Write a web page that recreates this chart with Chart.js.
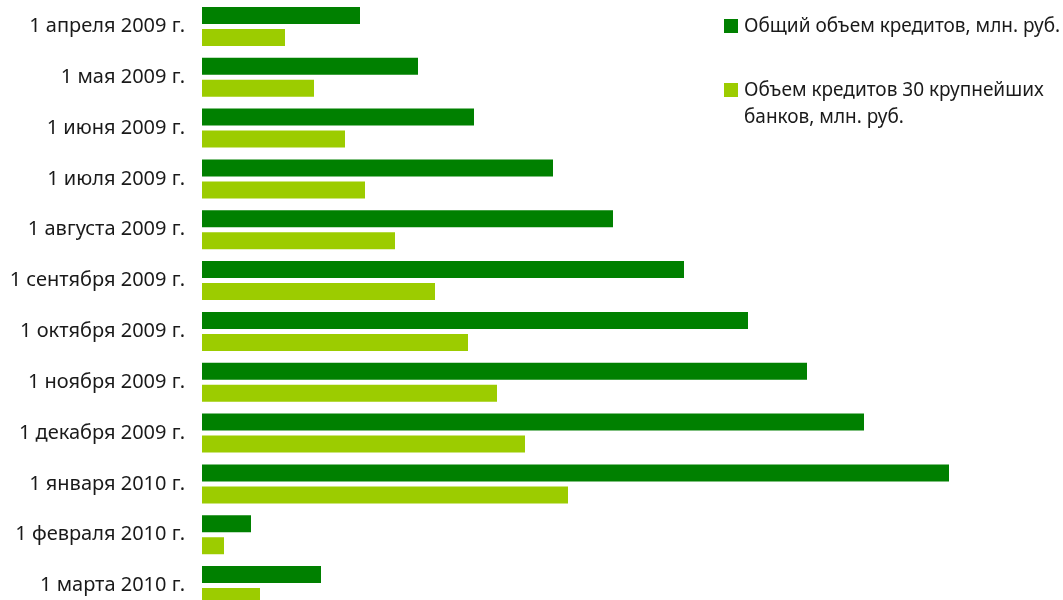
<!DOCTYPE html>
<html>
<head>
<meta charset="utf-8">
<script src="https://cdn.jsdelivr.net/npm/chart.js@4"></script>
<style>
html,body{margin:0;padding:0;background:#fff;overflow:hidden;width:1063px;height:600px;}
#wrap{position:relative;width:1063px;height:612px;}
#legend{position:absolute;left:724px;top:0;font-family:"Noto Sans",sans-serif;font-size:19px;color:#1a1a1a;}
.li{position:absolute;left:0;white-space:nowrap;}
.sw{position:absolute;left:0;width:14px;height:14px;}
.tx{position:absolute;left:20px;line-height:27px;}
</style>
</head>
<body>
<div id="wrap">
<canvas id="c" width="1063" height="612"></canvas>
<div id="legend"></div>
</div>
<script>
const categories = ["1 апреля 2009 г.","1 мая 2009 г.","1 июня 2009 г.","1 июля 2009 г.","1 августа 2009 г.","1 сентября 2009 г.","1 октября 2009 г.","1 ноября 2009 г.","1 декабря 2009 г.","1 января 2010 г.","1 февраля 2010 г.","1 марта 2010 г."];
const totalCredits = [158,216,272,351,411,482,546,605,662,747,49,119];
const top30Credits = [83,112,143,163,193,233,266,295,323,366,22,58];
const seriesNames = ["Общий объем кредитов, млн. руб.","Объем кредитов 30 крупнейших банков, млн. руб."];
const colors = ["#008000","#9ccc00"];
const xMax = 760;

const ctx = document.getElementById('c');
new Chart(ctx, {
  type: 'bar',
  data: {
    labels: categories,
    datasets: [
      {label: seriesNames[0], data: totalCredits, backgroundColor: colors[0], categoryPercentage: 0.865, barPercentage: 0.773},
      {label: seriesNames[1], data: top30Credits, backgroundColor: colors[1], categoryPercentage: 0.865, barPercentage: 0.773}
    ]
  },
  options: {
    indexAxis: 'y',
    responsive: false,
    animation: false,
    devicePixelRatio: 1,
    layout: {padding: {top: 1, bottom: 1, right: 101, left: 0}},
    plugins: {legend: {display: false}, tooltip: {enabled: false}},
    scales: {
      x: {display: false, min: 0, max: xMax},
      y: {
        grid: {display: false, drawTicks: false},
        border: {display: false},
        ticks: {color: '#1a1a1a', padding: 17, font: {family: 'Noto Sans', size: 20}},
        afterFit: (s) => { s.width = 202; s.paddingTop = 0; s.paddingBottom = 0; }
      }
    }
  }
});

const lg = document.getElementById('legend');
const items = [
  {top: 19, txtTop: 12, html: seriesNames[0]},
  {top: 83, txtTop: 76, html: "Объем кредитов 30 крупнейших<br>банков, млн. руб."}
];
items.forEach((it, i) => {
  const d = document.createElement('div');
  d.className = 'li';
  d.innerHTML = '<div class="sw" style="top:' + it.top + 'px;background:' + colors[i] + '"></div><div class="tx" style="top:' + it.txtTop + 'px">' + it.html + '</div>';
  lg.appendChild(d);
});
</script>
</body>
</html>
